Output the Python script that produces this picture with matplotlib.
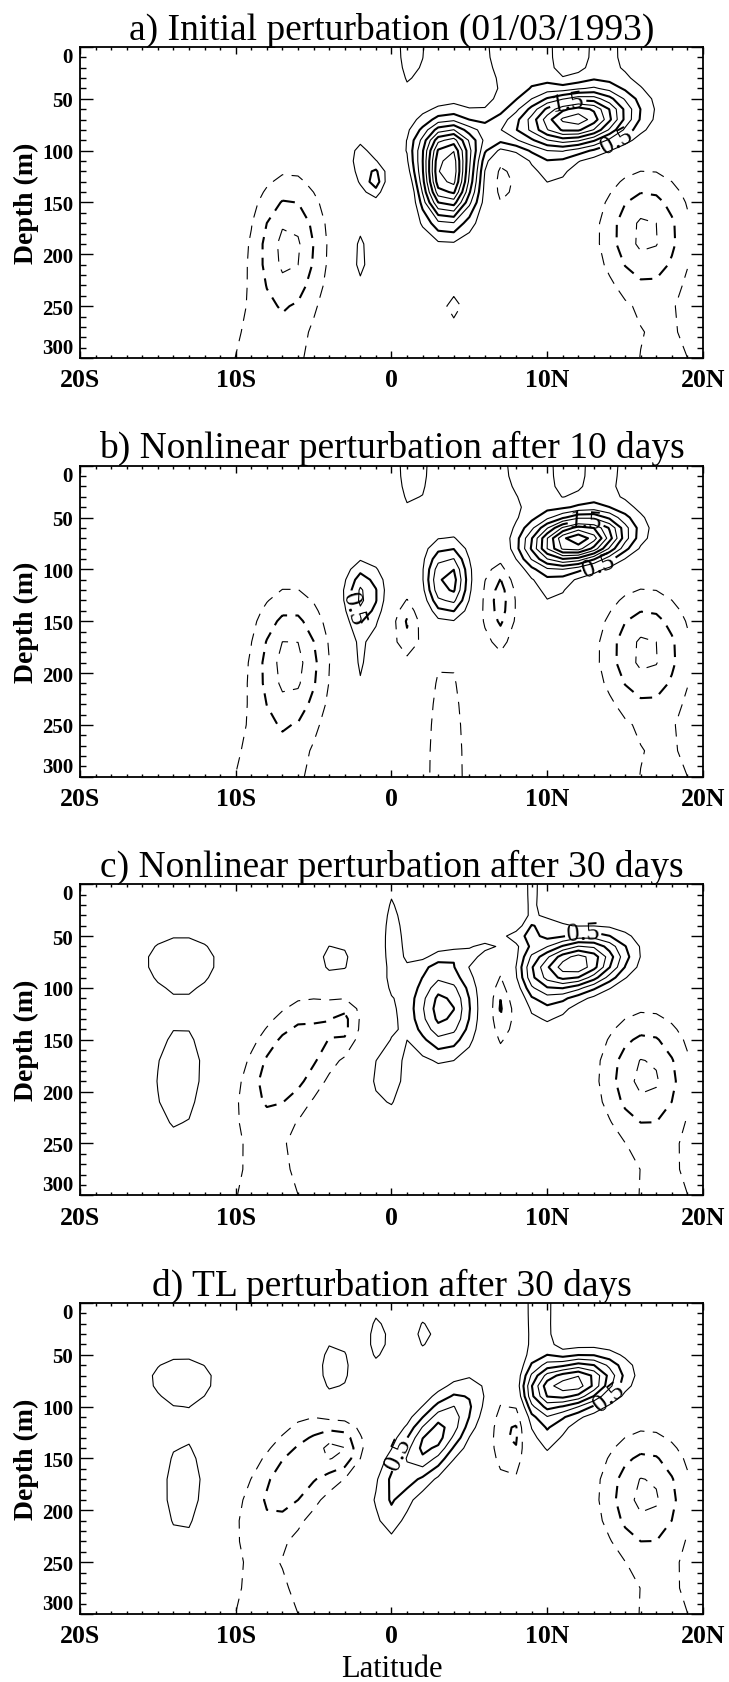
import numpy as np
import matplotlib.pyplot as plt
from matplotlib.ticker import MultipleLocator
import warnings

warnings.filterwarnings('ignore')
plt.rcParams['font.family'] = ['Liberation Serif', 'DejaVu Serif']
plt.rcParams['lines.scale_dashes'] = False

# model grid: latitude (deg) and depth (m)
lat = np.arange(-20.0, 19.01, 1.0)
depth = np.r_[np.arange(0, 151, 10), [170, 190, 210, 230, 250, 275, 300]]

# anomaly cells per panel: (lat, depth, amplitude, lat width, depth width, tilt)
cells_a = [
    (3.6, 124, 2.5, 1.15, 30, 0.0),
    (3.9, 92, 0.6, 1.7, 14, 0.0),
    (11.8, 70, 2.3, 2.3, 18, -0.02),
    (7.3, 82, 0.35, 1.2, 12, 0.0),
    (10.3, 118, 0.3, 1.0, 18, 0.0),
    (10.4, 0, 0.5, 3.5, 50, 0.0),
    (11.3, 0, -0.45, 0.9, 35, 0.0),
    (1.3, 0, 0.42, 0.65, 35, 0.0),
    (-2.0, 105, 0.38, 0.5, 12, 0.0),
    (-1.2, 128, 0.7, 0.55, 12, 0.0),
    (-2.0, 202, 0.36, 0.5, 25, 0.0),
    (0.8, 142, -0.38, 0.6, 14, 0.0),
    (4.0, 252, -0.38, 0.6, 14, 0.0),
    (7.2, 128, -0.45, 0.7, 22, 0.0),
    (-6.6, 192, -0.82, 1.55, 45, 0.0),
    (-8.0, 320, -0.4, 2.2, 60, 0.0),
    (16.3, 180, -0.82, 1.9, 40, 0.0),
    (17.5, 320, -0.35, 2.0, 55, 0.0),
]
cells_b = [
    (11.9, 72, 2.6, 2.0, 16, -0.03),
    (10.3, 118, 0.3, 1.0, 18, 0.0),
    (11.0, 0, 0.5, 3.0, 45, 0.0),
    (11.3, 0, -0.45, 0.8, 25, 0.0),
    (1.4, 0, 0.42, 0.8, 40, 0.0),
    (-1.8, 125, 0.82, 0.85, 22, 0.0),
    (-2.0, 190, 0.3, 0.6, 30, 0.0),
    (3.6, 112, 1.3, 0.9, 25, 0.0),
    (1.0, 155, -0.55, 0.7, 22, 0.0),
    (6.9, 130, -0.65, 0.8, 35, 0.0),
    (3.5, 300, -0.5, 0.85, 100, 0.0),
    (-6.5, 190, -0.85, 1.6, 46, 0.0),
    (-8.0, 320, -0.4, 2.2, 60, 0.0),
    (16.3, 180, -0.82, 1.9, 40, 0.0),
    (17.5, 320, -0.35, 2.0, 55, 0.0),
]
cells_c = [
    (11.8, 77, 2.0, 2.0, 18, -0.03),
    (10.2, 118, 0.3, 1.0, 18, 0.0),
    (9.2, 0, 0.35, 0.54, 70, 0.0),
    (7.0, 56, 0.36, 1.0, 20, -0.17),
    (3.3, 120, 1.15, 1.35, 30, 0.0),
    (-0.3, 185, 0.4, 0.9, 30, 0.0),
    (0.2, 55, 0.4, 0.6, 45, 0.0),
    (7.1, 115, -0.6, 0.65, 30, 0.0),
    (-13.5, 72, 0.33, 2.2, 22, 0.0),
    (-13.5, 190, 0.33, 2.1, 68, 0.0),
    (-3.6, 76, 0.42, 1.1, 20, 0.0),
    (-6.5, 170, -0.7, 2.0, 45, -0.03),
    (-3.0, 135, -0.35, 0.7, 18, 0.0),
    (-8.0, 320, -0.4, 2.2, 60, 0.0),
    (16.3, 185, -0.82, 1.9, 40, 0.0),
    (17.5, 320, -0.35, 2.0, 55, 0.0),
]
cells_d = [
    (11.6, 78, 1.95, 1.9, 17, -0.03),
    (10.3, 120, 0.3, 1.0, 18, 0.0),
    (9.5, 0, 0.45, 0.6, 100, 0.0),
    (2.7, 130, 1.15, 1.3, 33, -0.04),
    (0.0, 200, 0.35, 0.8, 25, 0.0),
    (-13.5, 72, 0.33, 2.1, 20, 0.0),
    (-13.3, 180, 0.33, 1.6, 60, 0.0),
    (-3.6, 70, 0.45, 0.9, 30, 0.0),
    (-0.7, 35, 0.4, 0.6, 25, 0.0),
    (2.3, 30, 0.42, 0.5, 14, 0.0),
    (7.6, 120, -0.7, 0.7, 35, 0.0),
    (-6.2, 165, -0.65, 1.9, 45, -0.035),
    (-3.3, 142, -0.55, 0.9, 16, 0.0),
    (-8.0, 320, -0.4, 2.2, 60, 0.0),
    (16.3, 185, -0.82, 1.9, 40, 0.0),
    (17.5, 320, -0.35, 2.0, 55, 0.0),
]

titles = ['a) Initial perturbation (01/03/1993)',
          'b) Nonlinear perturbation after 10 days',
          'c) Nonlinear perturbation after 30 days',
          'd) TL perturbation after 30 days']

# contour labels: (level, lat, depth)
labels_a = [(1.5, 11.3, 50), (0.5, 14.8, 100)]
labels_b = [(1.5, 12.5, 48), (0.5, 13.5, 103), (0.5, -3.0, 140)]
labels_c = [(0.5, 12.3, 47)]
labels_d = [(0.5, 14.3, 98), (0.5, 0.4, 145)]

xticks = [-20, -10, 0, 10, 20]
xticklabels = ['20S', '10S', '0', '10N', '20N']
yticks = [0, 50, 100, 150, 200, 250, 300]

pos_levels = np.arange(0.25, 3.01, 0.25)
neg_levels = np.array([-1.0, -0.75, -0.5, -0.25])


def build(cells):
    LA, DE = np.meshgrid(lat, depth)
    f = np.zeros_like(LA)
    for la, de, amp, wl, wd, tilt in cells:
        dx = (LA - la - tilt * (DE - de)) / wl
        dz = (DE - de) / wd
        f += amp * np.exp(-0.5 * (dx ** 2 + dz ** 2))
    return f


def width(level):
    # every 0.5 contour drawn heavier
    return 1.5 if abs(level * 2 - round(level * 2)) < 1e-6 else 0.8


fig = plt.figure(figsize=(7.29, 16.83), dpi=100)
bottoms = [0.7867, 0.5379, 0.2892, 0.0404]

for i, (cells, title, labs) in enumerate(zip([cells_a, cells_b, cells_c, cells_d], titles,
                                           [labels_a, labels_b, labels_c, labels_d])):
    ax = fig.add_axes([0.1097, bottoms[i], 0.8546, 0.1848])
    f = build(cells)
    ax.set_xlim(-20, 20)
    ax.set_ylim(300, 0)

    sets = {}
    for lev in pos_levels:
        if f.max() > lev:
            sets[round(lev, 2)] = ax.contour(lat, depth, f, levels=[lev], colors='k',
                                             linewidths=width(lev), linestyles='solid')
    for lev in neg_levels:
        if f.min() < lev:
            c = ax.contour(lat, depth, f, levels=[lev], colors='k', linewidths=width(lev))
            c.set_linestyle((0, (9, 6)))

    for lev, x, y in labs:
        ax.clabel(sets[lev], manual=[(x, y)], fmt='%.1f',
                  fontsize=19, inline=True, inline_spacing=2)

    ax.set_xticks(xticks)
    ax.set_xticklabels(xticklabels)
    ax.set_yticks(yticks)
    ax.set_yticklabels([str(v) for v in yticks])
    ax.xaxis.set_minor_locator(MultipleLocator(1))
    ax.yaxis.set_minor_locator(MultipleLocator(10))
    ax.tick_params(which='both', direction='in', top=True, right=True, width=1)
    ax.tick_params(axis='x', which='major', length=5, pad=7.5, labelsize=18.5)
    ax.tick_params(axis='x', which='minor', length=2.5)
    ax.tick_params(axis='y', which='major', length=9, pad=5, labelsize=15)
    ax.tick_params(axis='y', which='minor', length=4.5)
    for t in ax.get_xticklabels() + ax.get_yticklabels():
        t.set_fontweight('bold')
    ylabs = ax.get_yticklabels()
    ylabs[0].set_va('top')
    ylabs[-1].set_va('bottom')
    for s in ax.spines.values():
        s.set_linewidth(1.3)

    ax.set_title(title, fontsize=27, pad=6)
    ax.set_ylabel('Depth (m)', fontsize=20, fontweight='bold')
    ax.yaxis.set_label_coords(-0.065, 0.5)
    if i == 3:
        ax.set_xlabel('Latitude', fontsize=22)
        ax.xaxis.set_label_coords(0.5, -0.13)

fig.savefig('out.png', dpi=100)
